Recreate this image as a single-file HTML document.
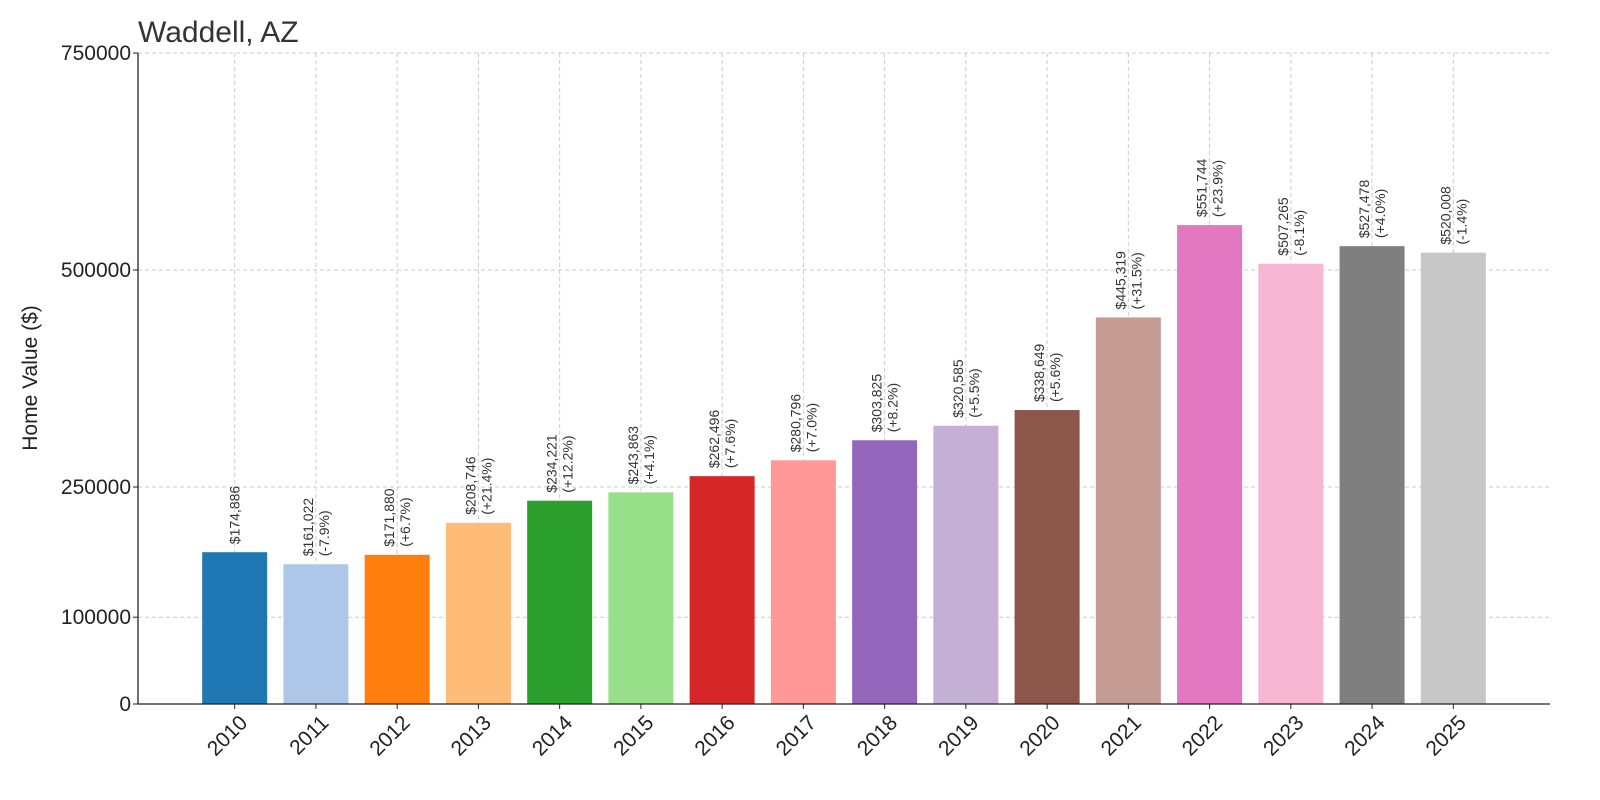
<!DOCTYPE html>
<html><head><meta charset="utf-8"><style>
body{margin:0;background:#fff;font-family:"Liberation Sans","DejaVu Sans",sans-serif}
svg{display:block}
</style></head><body>
<svg id="chart" width="1600" height="800" xmlns="http://www.w3.org/2000/svg">
<text x="138" y="42" font-size="30" fill="#333">Waddell, AZ</text>
<text transform="translate(37,378) rotate(-90)" text-anchor="middle" font-size="21" fill="#222">Home Value ($)</text>
<g id="grid"></g><g id="bars"></g><g id="labels"></g><g id="axes"></g>
</svg>
<script>
const years=["2010","2011","2012","2013","2014","2015","2016","2017","2018","2019","2020","2021","2022","2023","2024","2025"];
const values=[174886,161022,171880,208746,234221,243863,262496,280796,303825,320585,338649,445319,551744,507265,527478,520008];
const changes=["","(-7.9%)","(+6.7%)","(+21.4%)","(+12.2%)","(+4.1%)","(+7.6%)","(+7.0%)","(+8.2%)","(+5.5%)","(+5.6%)","(+31.5%)","(+23.9%)","(-8.1%)","(+4.0%)","(-1.4%)"];
const yTicks=[0,100000,250000,500000,750000];
const colors=["#1f77b4","#aec7e8","#ff7f0e","#ffbb78","#2ca02c","#98df8a","#d62728","#ff9896","#9467bd","#c5b0d5","#8c564b","#c49c94","#e377c2","#f7b6d2","#7f7f7f","#c7c7c7"];
const NS="http://www.w3.org/2000/svg";
const L=138,R=1550,T=53,B=704,yMax=750000;
const xmin=-1.19,xmax=years.length-1+1.19;
const xs=i=>L+(i-xmin)/(xmax-xmin)*(R-L);
const ys=v=>B-v/yMax*(B-T);
const bw=0.8*(R-L)/(xmax-xmin);
function mk(tag,attrs,parent,text){const e=document.createElementNS(NS,tag);for(const k in attrs)e.setAttribute(k,attrs[k]);if(text!==undefined)e.textContent=text;parent.appendChild(e);return e;}
const grid=document.getElementById('grid'),bars=document.getElementById('bars'),labels=document.getElementById('labels'),axes=document.getElementById('axes');
yTicks.forEach(t=>{const y=ys(t);
 const g=mk('line',{x1:L,x2:R,y1:y,y2:y,stroke:'#ccc','stroke-dasharray':'4,3','stroke-width':1},grid);
 
 mk('line',{x1:L-5,x2:L,y1:y,y2:y,stroke:'#222'},axes);
 const tl=mk('text',{x:L-7,y:y+7,'text-anchor':'end','font-size':21,fill:'#222'},axes,String(t));
 
});
years.forEach((yr,i)=>{const x=xs(i);
 const g=mk('line',{x1:x,x2:x,y1:T,y2:B,stroke:'#ccc','stroke-dasharray':'4,3','stroke-width':1},grid);
 
 const y=ys(values[i]);
 const r=mk('rect',{x:x-bw/2,y:y,width:bw,height:B-y,fill:colors[i]},bars);
 
 const t=mk('text',{transform:`translate(${x},${y-8}) rotate(-90)`,'font-size':14,fill:'#333'},labels);
 
 const lines=["$"+values[i].toLocaleString('en-US')];if(changes[i])lines.push(changes[i]);
 const off=lines.length==1?5:-3;
 lines.forEach((s,j)=>mk('tspan',{x:0,y:off+j*16},t,s));
 mk('line',{x1:x,x2:x,y1:B,y2:B+5,stroke:'#222'},axes);
 const xl=mk('text',{transform:`translate(${x+14},${B+20}) rotate(-45)`,'text-anchor':'end','font-size':21,fill:'#222'},axes,yr);
 
});
mk('line',{x1:L,x2:L,y1:T,y2:B,stroke:'#222','stroke-width':1.3},axes);
mk('line',{x1:L,x2:R,y1:B,y2:B,stroke:'#222','stroke-width':1.3},axes);
</script>
</body></html>
